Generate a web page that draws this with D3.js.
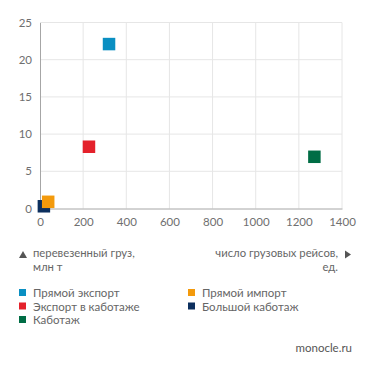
<!DOCTYPE html>
<html>
<head>
<meta charset="utf-8">
<script src="https://cdn.jsdelivr.net/npm/d3@7"></script>
<style>
  body { margin: 0; background: #fff; }
  svg { display: block; font-family: Lato, sans-serif; }
</style>
</head>
<body>
<svg id="chart" width="371" height="371"></svg>
<script>
// data
const categories = ["Прямой экспорт", "Прямой импорт", "Экспорт в каботаже", "Большой каботаж", "Каботаж"];
const trips = [320, 38, 227, 18, 1272];
const cargo = [22.1, 0.9, 8.3, 0.3, 6.95];
const colors = ["#0a8fc2", "#f39a0c", "#e4212b", "#0c2f5e", "#006d45"];
const xTicks = [0, 200, 400, 600, 800, 1000, 1200, 1400];
const yTicks = [0, 5, 10, 15, 20, 25];
// drawing order (navy behind orange)
const drawOrder = [0, 2, 4, 3, 1];

const svg = d3.select('#chart');
const plotLeft = 40, plotRight = 342, plotTop = 22.5, plotBottom = 208.5;

let x = d3.scaleLinear().domain([0, 1400]).range([plotLeft, plotRight]);
let y = d3.scaleLinear().domain([0, 25]).range([plotBottom, plotTop]);

// grid
svg.append('g').selectAll('line').data(xTicks.slice(1)).join('line')
  .attr('x1', d => x(d)).attr('x2', d => x(d))
  .attr('y1', plotTop).attr('y2', plotBottom)
  .attr('stroke', '#e6e6e6').attr('stroke-width', 1);
svg.append('g').selectAll('line').data(yTicks.slice(1)).join('line')
  .attr('x1', plotLeft).attr('x2', plotRight)
  .attr('y1', d => y(d)).attr('y2', d => y(d))
  .attr('stroke', '#e6e6e6').attr('stroke-width', 1);

// axes
let xAxis = d3.axisBottom(x).tickValues(xTicks).tickFormat(d3.format('d')).tickSize(0).tickPadding(9);
svg.append('g').attr('transform', `translate(0,${plotBottom})`).call(xAxis)
  .call(g => g.select('.domain').attr('stroke', '#a6a6a6'))
  .selectAll('text').attr('fill', '#6f6f6f').style('font-family', 'Lato, sans-serif').style('font-size', '11.5px');

let yAxis = d3.axisLeft(y).tickValues(yTicks).tickSize(0).tickPadding(8);
svg.append('g').attr('transform', `translate(${plotLeft},0)`).call(yAxis)
  .call(g => g.select('.domain').attr('stroke', '#a6a6a6'))
  .selectAll('text').attr('fill', '#6f6f6f').style('font-family', 'Lato, sans-serif').style('font-size', '11.5px');

// points
const s = 12.5;
svg.append('g').selectAll('rect').data(drawOrder).join('rect')
  .attr('x', i => x(trips[i]) - s / 2)
  .attr('y', i => y(cargo[i]) - s / 2)
  .attr('width', s).attr('height', s)
  .attr('fill', i => colors[i]);

// axis captions
const txt = '#666';
let cap = svg.append('g').style('font-size', '11.3px').attr('fill', txt);
cap.append('path').attr('d', 'M19,258 L23,251 L27,258 Z').attr('fill', '#555');
cap.append('text').attr('x', 33).attr('y', 257).text('перевезенный груз,');
cap.append('text').attr('x', 33).attr('y', 271).text('млн т');
cap.append('path').attr('d', 'M345,250.5 L351,254.5 L345,258.5 Z').attr('fill', '#555');
cap.append('text').attr('x', 338).attr('y', 257).attr('text-anchor', 'end').text('число грузовых рейсов,');
cap.append('text').attr('x', 338).attr('y', 271).attr('text-anchor', 'end').text('ед.');

// legend
let legend = svg.append('g').style('font-size', '11.5px');
let item = legend.selectAll('g').data(categories).join('g')
  .attr('transform', (d, i) => `translate(${i % 2 ? 188 : 19},${293 + Math.floor(i / 2) * 13.5})`);
item.append('rect').attr('x', 0).attr('y', -4).attr('width', 7).attr('height', 7)
  .attr('fill', (d, i) => colors[i]);
item.append('text').attr('x', 14).attr('y', 4).attr('fill', txt).text(d => d);

svg.append('text').attr('x', 352).attr('y', 352).attr('text-anchor', 'end')
  .attr('fill', '#555').style('font-size', '11.5px').text('monocle.ru');
</script>
</body>
</html>
